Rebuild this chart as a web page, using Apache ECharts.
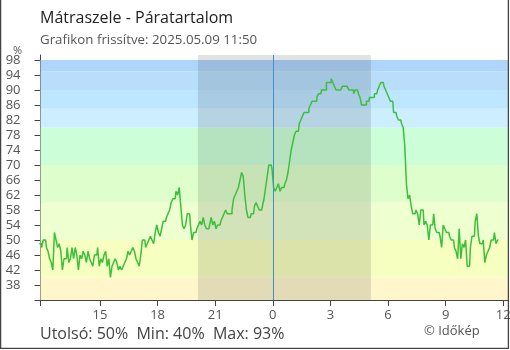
<!DOCTYPE html>
<html><head><meta charset="utf-8">
<script src="https://cdn.jsdelivr.net/npm/echarts@6/dist/echarts.min.js"></script>
<style>html,body{margin:0;padding:0;background:#fff}#c{width:510px;height:350px}</style>
</head><body><div id="c"></div>
<script>
const titleText = 'Mátraszele - Páratartalom';
const subtitleText = 'Grafikon frissítve: 2025.05.09 11:50';
const summaryText = 'Utolsó: 50%  Min: 40%  Max: 93%';
const creditText = '© Időkép';
const unitText = '%';
// time in hours after 12:00 of the previous day, 5-minute readings
const startHour = -1 / 6;
const stepHours = 1 / 12;
const humidity = [
  49,49,48,50,50,48,47,45,44,42,
  52,50,48,49,47,42,45,45,48,44,
  45,48,45,48,46,42,46,45,47,46,
  44,47,45,44,43,46,46,48,43,45,
  44,46,47,43,45,40,43,44,45,44,
  42,43,42,43,44,45,47,46,47,48,
  47,45,44,43,46,50,50,48,49,50,
  51,50,49,52,54,52,51,53,55,55,
  56,57,58,60,61,61,63,62,64,59,
  54,53,54,57,57,54,50,52,52,53,
  54,55,54,56,54,53,53,54,56,54,
  55,53,54,54,55,56,57,58,57,57,
  57,58,61,62,63,64,66,68,67,62,
  58,56,56,57,57,59,60,59,58,58,
  59,61,64,67,70,70,69,64,63,64,
  65,63,64,64,65,66,68,71,74,76,
  78,79,79,81,82,83,84,84,84,85,
  86,87,87,87,88,89,89,90,90,90,
  92,92,92,93,92,91,90,90,90,90,
  91,91,91,91,90,90,90,89,90,90,
  89,88,86,86,86,87,87,88,88,88,
  89,89,90,91,92,92,91,90,89,88,
  87,87,84,84,83,82,82,81,80,75,
  65,61,62,59,57,57,58,57,54,58,
  58,54,55,54,50,54,54,57,53,52,
  52,51,48,54,53,52,52,51,50,50,
  48,47,45,53,45,49,48,50,43,43,
  48,51,51,55,57,51,49,49,50,44,
  46,47,48,50,50,52,49,50
];
const xMin = -0.1, xMax = 24.25;
const yMin = 34, yMax = 99.33;
const xTickHours = [-0.1, 3, 6, 9, 12, 15, 18, 21, 24];
const xLabelHours = [3, 6, 9, 12, 15, 18, 21, 24];
const yTicks = [34, 38, 42, 46, 50, 54, 58, 62, 66, 70, 74, 78, 82, 86, 90, 94, 98];
const yLabels = [38, 42, 46, 50, 54, 58, 62, 66, 70, 74, 78, 82, 86, 90, 94, 98];
const bandEdges = [34, 40, 50, 60, 70, 80, 85, 90, 95, 98];
const bandColors = ['#fff6cc', '#f6ffc0', '#eeffd0', '#deffcc', '#ccffd8', '#cceeff', '#bee6ff', '#b8defc', '#b0d5fa'];
const nightStart = 8.1, nightEnd = 17.11;
const midnightHour = 12;

const seriesData = humidity.map((v, i) => [startHour + i * stepHours, v]);
const areas = [];
for (let k = 0; k < bandColors.length; k++) {
  areas.push([{ yAxis: bandEdges[k], itemStyle: { color: bandColors[k] } }, { yAxis: bandEdges[k + 1] }]);
}
areas.push([{ xAxis: nightStart, itemStyle: { color: 'rgba(0,0,0,0.11)' } }, { xAxis: nightEnd }]);

const fontFam = '"Open Sans", "Noto Sans", sans-serif';
const axisCol = '#444';
function hourLabel(v) { return String((Math.round(v) + 12) % 24); }

const chart = echarts.init(document.getElementById('c'), null, { renderer: 'canvas' });
chart.setOption({
  animation: false,
  backgroundColor: '#fff',
  grid: { left: 40.5, right: 2, top: 55, bottom: 50, containLabel: false, outerBoundsMode: 'none' },
  xAxis: [{
    type: 'value', min: xMin, max: xMax, position: 'bottom',
    axisLine: { onZero: false, lineStyle: { color: axisCol, width: 1 } },
    axisTick: { show: true, length: 6, customValues: xTickHours, lineStyle: { color: axisCol } },
    axisLabel: { customValues: xLabelHours, formatter: hourLabel, color: '#555', fontSize: 13, fontFamily: fontFam, margin: 9, hideOverlap: false },
    splitLine: { show: false }
  }, {
    type: 'value', min: xMin, max: xMax, position: 'bottom',
    axisLine: { show: false, onZero: false },
    axisTick: { show: true, inside: true, length: 6, customValues: xTickHours, lineStyle: { color: axisCol } },
    axisLabel: { show: false },
    splitLine: { show: false }
  }],
  yAxis: [{
    type: 'value', min: yMin, max: yMax, position: 'left',
    axisLine: { show: true, onZero: false, lineStyle: { color: axisCol, width: 1 } },
    axisTick: { show: true, length: 6, customValues: yTicks, lineStyle: { color: axisCol } },
    axisLabel: { customValues: yLabels, color: '#555', fontSize: 13, fontFamily: fontFam, margin: 20 },
    splitLine: { show: false }
  }, {
    type: 'value', min: yMin, max: yMax, position: 'left',
    axisLine: { show: false, onZero: false },
    axisTick: { show: true, inside: true, length: 6, customValues: yTicks, lineStyle: { color: axisCol } },
    axisLabel: { show: false },
    splitLine: { show: false }
  }],
  series: [{
    type: 'line',
    xAxisIndex: 0, yAxisIndex: 0,
    data: seriesData,
    step: 'middle',
    showSymbol: false,
    symbol: 'none',
    lineStyle: { color: '#3cbf3c', width: 1.5 },
    z: 3,
    markArea: { silent: true, data: areas, label: { show: false } },
    markLine: {
      silent: true, symbol: 'none', label: { show: false },
      lineStyle: { color: '#3a90d0', width: 1, type: 'solid' },
      data: [{ xAxis: midnightHour }]
    }
  }],
  graphic: [
    { type: 'text', left: 40, top: 10, style: { text: titleText, font: '16px ' + fontFam, fill: '#222' } },
    { type: 'text', left: 40, top: 34, style: { text: subtitleText, font: '13.3px ' + fontFam, fill: '#555' } },
    { type: 'text', left: 13, top: 45, style: { text: unitText, font: '11px ' + fontFam, fill: '#555' } },
    { type: 'text', left: 40, top: 326, style: { text: summaryText, font: '16px ' + fontFam, fill: '#444' } },
    { type: 'text', left: 424, top: 325, style: { text: creditText, font: '13px ' + fontFam, fill: '#555' } },
    { type: 'polyline', z: 100, shape: { points: [[0.6, 0], [0.6, 348.4], [508.4, 348.4], [508.4, 0]] }, style: { stroke: '#444', lineWidth: 1.3, fill: null } }
  ]
});
</script>
</body></html>
